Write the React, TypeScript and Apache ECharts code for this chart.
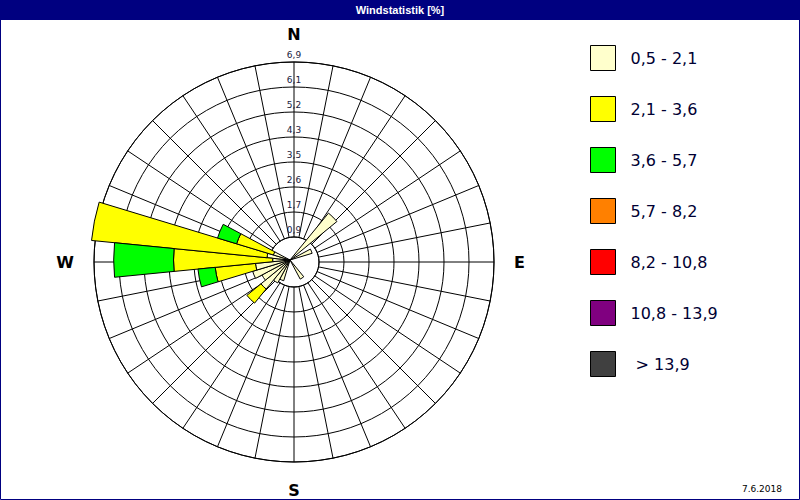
import { useEffect, useRef } from 'react';
import * as echarts from 'echarts';

// 32 Richtungen, 11,25° Schritt (N = 0, im Uhrzeigersinn)
const DIRECTIONS = [
  'N', 'NzO', 'NNO', 'NOzN', 'NO', 'NOzO', 'ONO', 'OzN',
  'O', 'OzS', 'OSO', 'SOzO', 'SO', 'SOzS', 'SSO', 'SzO',
  'S', 'SzW', 'SSW', 'SWzS', 'SW', 'SWzW', 'WSW', 'WzS',
  'W', 'WzN', 'WNW', 'NWzW', 'NW', 'NWzN', 'NNW', 'NzW',
];

// Anteile je Geschwindigkeitsklasse [%], null = kein Anteil
const CLASS_1 = [
  null, null, null, null, 2.1, null, 0.8, null,
  null, null, null, null, null, 0.75, null, null,
  null, null, 0.75, 0.9, 1.3, 1.1, 1.35, 1.2,
  0.6, 0.8, 0.6, null, null, null, null, null,
];
const CLASS_2 = [
  null, null, null, null, null, null, null, null,
  null, null, null, null, null, null, null, null,
  null, null, null, null, 0.63, null, null, 1.4,
  3.43, 6.1, 1.33, null, null, null, null, null,
];
const CLASS_3 = [
  null, null, null, null, null, null, null, null,
  null, null, null, null, null, null, null, null,
  null, null, null, null, null, null, null, 0.6,
  2.07, null, 0.69, null, null, null, null, null,
];
const EMPTY = DIRECTIONS.map(() => null);

const CLASS_NAMES = ['0,5 - 2,1', '2,1 - 3,6', '3,6 - 5,7', '5,7 - 8,2', '8,2 - 10,8', '10,8 - 13,9', ' > 13,9'];
const CLASS_COLORS = ['#FFFFCC', '#FFFF00', '#00FF00', '#FF8000', '#FF0000', '#800080', '#404040'];
const CLASS_DATA = [CLASS_1, CLASS_2, CLASS_3, EMPTY, EMPTY, EMPTY, EMPTY];

const RING_LABELS = ['0,9', '1,7', '2,6', '3,5', '4,3', '5,2', '6,1', '6,9'];
const RADIUS_MAX = 6.92;
const COMPASS: Record<number, string> = { 0: 'N', 90: 'E', 180: 'S', 270: 'W' };

export default function App() {
  const ref = useRef<HTMLDivElement>(null);

  useEffect(() => {
    if (!ref.current) return;
    const chart = echarts.init(ref.current, null, { renderer: 'svg' });

    const option: any = {
      animation: false,
      backgroundColor: '#ffffff',
      title: [
        {
          text: 'Windstatistik [%]',
          left: 'center',
          top: 4,
          padding: 0,
          z: 10,
          textStyle: { color: '#ffffff', fontSize: 11, fontWeight: 'bold', fontFamily: 'Liberation Sans' },
        },
        {
          text: '7.6.2018',
          right: 18,
          top: 484,
          padding: 0,
          textStyle: { color: '#000000', fontSize: 9, fontWeight: 'normal', fontFamily: 'DejaVu Sans' },
        },
      ],
      graphic: [
        { type: 'rect', z: 0, shape: { x: 0, y: 0, width: 800, height: 20 }, style: { fill: '#000080' } },
        {
          type: 'rect',
          z: 0,
          shape: { x: 0.5, y: 19.5, width: 799, height: 480 },
          style: { fill: 'none', stroke: '#000080', lineWidth: 1 },
        },
      ],
      legend: {
        orient: 'vertical',
        left: 590,
        top: 45,
        padding: 0,
        itemWidth: 25,
        itemHeight: 25,
        itemGap: 25,
        icon: 'rect',
        selectedMode: false,
        data: CLASS_NAMES,
        itemStyle: { borderColor: '#000000', borderWidth: 1 },
        textStyle: { fontSize: 16, fontFamily: 'DejaVu Sans', color: '#000033', padding: [0, 0, 0, 10] },
      },
      polar: [
        { center: [290, 260], radius: 200 },
        { center: [294, 262], radius: [25, 200] },
      ],
      angleAxis: [
        {
          polarIndex: 0,
          type: 'category',
          data: DIRECTIONS,
          startAngle: 90 + 360 / 64,
          boundaryGap: true,
          show: false,
        },
        {
          polarIndex: 1,
          type: 'value',
          min: 0,
          max: 360,
          interval: 11.25,
          startAngle: 90,
          z: 1,
          axisLine: { show: true, lineStyle: { color: '#000000', width: 1 } },
          axisTick: { show: false },
          splitLine: { show: true, lineStyle: { color: '#000000', width: 1 } },
          axisLabel: {
            show: true,
            margin: 20,
            formatter: (v: number) => COMPASS[v] || '',
            color: '#000000',
            fontSize: 16,
            fontWeight: 'bold',
            fontFamily: 'DejaVu Sans',
          },
        },
      ],
      radiusAxis: [
        { polarIndex: 0, min: 0, max: RADIUS_MAX, show: false },
        {
          polarIndex: 1,
          min: 1,
          max: 8,
          interval: 1,
          z: 1,
          axisLine: { show: false },
          axisTick: { show: false },
          splitLine: { show: true, lineStyle: { color: '#000000', width: 1 } },
          axisLabel: {
            show: true,
            margin: 0,
            align: 'center',
            verticalAlign: 'bottom',
            padding: [0, 0, 3, 0],
            formatter: (v: number) => RING_LABELS[Math.round(v) - 1] || '',
            color: '#1a1a40',
            fontSize: 9,
            fontFamily: 'DejaVu Sans',
          },
        },
      ],
      series: CLASS_NAMES.map((name, i) => ({
        name,
        type: 'bar',
        coordinateSystem: 'polar',
        polarIndex: 0,
        stack: 'wind',
        barCategoryGap: '0%',
        z: 5,
        data: CLASS_DATA[i],
        itemStyle: { color: CLASS_COLORS[i], borderColor: '#000000', borderWidth: 1 },
      })),
    };

    chart.setOption(option);
    return () => chart.dispose();
  }, []);

  return (
    <div
      ref={ref}
      style={{ position: 'fixed', left: 0, top: 0, width: 800, height: 500 }}
    />
  );
}
